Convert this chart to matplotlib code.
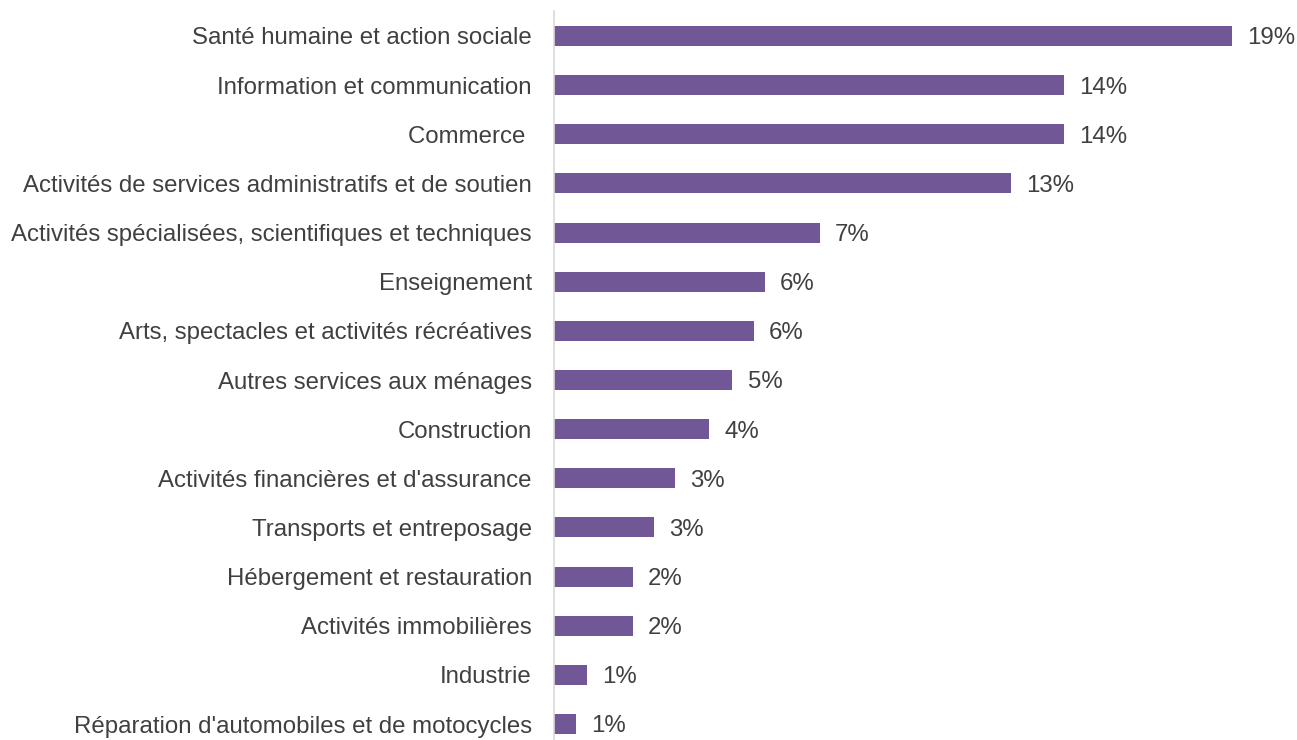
import numpy as np
import matplotlib as mpl
from matplotlib import pyplot as plt

plt.rcParams['font.family'] = ['Liberation Sans', 'DejaVu Sans']

# secteurs, du plus grand au plus petit
secteurs = [
    "Santé humaine et action sociale",
    "Information et communication",
    "Commerce ",
    "Activités de services administratifs et de soutien",
    "Activités spécialisées, scientifiques et techniques",
    "Enseignement",
    "Arts, spectacles et activités récréatives",
    "Autres services aux ménages",
    "Construction",
    "Activités financières et d'assurance",
    "Transports et entreposage",
    "Hébergement et restauration",
    "Activités immobilières",
    "Industrie",
    "Réparation d'automobiles et de motocycles",
]
parts = [19.0, 14.3, 14.3, 12.8, 7.45, 5.9, 5.6, 5.0, 4.35, 3.4, 2.8, 2.2, 2.2, 0.92, 0.62]

W, H = 1297, 740
fig = plt.figure(figsize=(W / 100, H / 100), dpi=100)

px_per = 678 / 19.0
ax_left, ax_top, ax_bot = 554, 11, 740
ax = fig.add_axes([ax_left / W, 1 - ax_bot / H, (W - ax_left) / W, (ax_bot - ax_top) / H])

row = (724 - 36) / 14
y = np.arange(len(secteurs))
ax.barh(y, parts, height=20 / row, color="#725796")

ax.set_xlim(0, (W - ax_left) / px_per)
ax.set_ylim(14 + (740 - 724) / row, -(36 - 11) / row)

txt = "#404040"
fs = 17.3
for yi, v in zip(y, parts):
    ax.annotate(f"{v:.0f}%", (v, yi), xytext=(11, 0), textcoords="offset points",
                va="center_baseline", ha="left", fontsize=fs, color=txt)

ax.set_yticks(y)
ax.set_yticklabels(secteurs, fontsize=fs, color=txt, va="center_baseline")
ax.tick_params(axis="y", length=0, pad=16)
ax.set_xticks([])
for s in ["top", "right", "bottom"]:
    ax.spines[s].set_visible(False)
ax.spines["left"].set_color("#d9d9d9")
ax.spines["left"].set_linewidth(1.2)

fig.savefig("out.png", dpi=100)
